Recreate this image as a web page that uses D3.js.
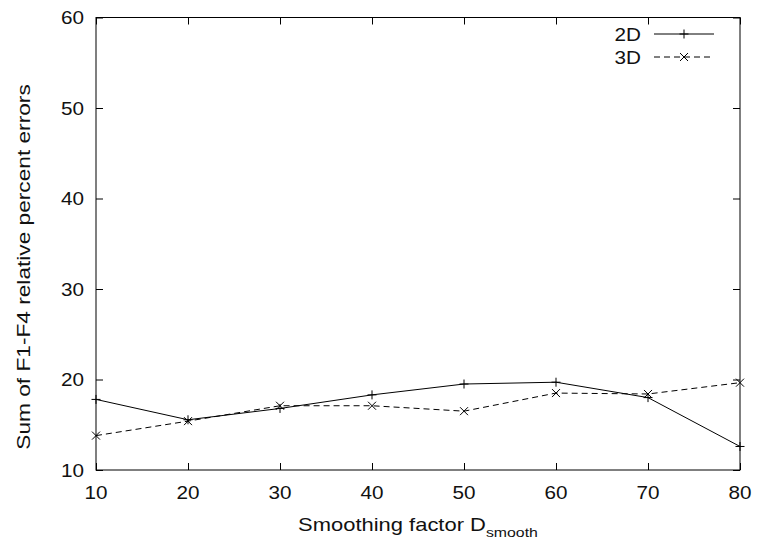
<!DOCTYPE html>
<html><head><meta charset="utf-8">
<script src="https://cdn.jsdelivr.net/npm/d3@7"></script>
<style>body{margin:0;background:#fff}svg{display:block}text{font-family:"Liberation Sans",Arial,sans-serif;fill:#111}</style>
</head><body>
<script>
const xValues = [10, 20, 30, 40, 50, 60, 70, 80];
const series2D = [17.8, 15.55, 16.8, 18.3, 19.5, 19.7, 18.0, 12.6];
const series3D = [13.8, 15.4, 17.1, 17.1, 16.5, 18.5, 18.4, 19.65];
const xTicks = [10, 20, 30, 40, 50, 60, 70, 80];
const yTicks = [10, 20, 30, 40, 50, 60];
const seriesNames = ["2D", "3D"];

const W = 757, H = 542;
const L = 96, R = 740, T = 17.5, B = 470;
const SX = 1.15, FS = 18;
const svg = d3.select("body").append("svg").attr("width", W).attr("height", H);
const x = d3.scaleLinear().domain([10, 80]).range([L, R]);
const y = d3.scaleLinear().domain([10, 60]).range([B, T]);

function txt(px, py, s, anchor, rot, sx) {
  const g = svg.append("g").attr("transform", `translate(${px},${py})${rot ? " rotate(-90)" : ""} scale(${sx || SX},1)`);
  return g.append("text").attr("text-anchor", anchor).attr("font-size", FS).text(s);
}

const tl = 7;
const gx = svg.append("g").attr("transform", `translate(0,${B})`)
  .call(d3.axisBottom(x).tickValues(xTicks).tickSize(-tl).tickFormat(""));
const gxt = svg.append("g").attr("transform", `translate(0,${T})`)
  .call(d3.axisTop(x).tickValues(xTicks).tickSize(-tl).tickFormat(""));
const gy = svg.append("g").attr("transform", `translate(${L},0)`)
  .call(d3.axisLeft(y).tickValues(yTicks).tickSize(-tl).tickFormat(""));
const gyr = svg.append("g").attr("transform", `translate(${R},0)`)
  .call(d3.axisRight(y).tickValues(yTicks).tickSize(-tl).tickFormat(""));
[gx, gxt, gy, gyr].forEach(g => { g.select(".domain").remove(); g.selectAll("line").attr("stroke", "#000"); });

svg.append("rect").attr("x", L).attr("y", T).attr("width", R - L).attr("height", B - T)
  .attr("fill", "none").attr("stroke", "#000").attr("stroke-width", 1);

xTicks.forEach(v => txt(x(v), 499, String(v), "middle"));
yTicks.forEach(v => txt(84, y(v) + 6.5, String(v), "end"));

{
  const g = svg.append("g").attr("transform", `translate(418,531) scale(1.22,1)`);
  const t = g.append("text").attr("text-anchor", "middle").attr("font-size", FS);
  t.append("tspan").text("Smoothing factor D");
  t.append("tspan").attr("font-size", 13).attr("dy", 6).text("smooth");
}
txt(30, 267, "Sum of F1-F4 relative percent errors", "middle", true, 1.26);

const line = d3.line().x((d, i) => x(xValues[i])).y(d => y(d));
const m = 4.5;
function plus(g, cx, cy) {
  g.append("path").attr("d", `M${cx - m},${cy}H${cx + m}M${cx},${cy - m}V${cy + m}`).attr("stroke", "#000").attr("fill", "none");
}
function cross(g, cx, cy) {
  const k = 4;
  g.append("path").attr("d", `M${cx - k},${cy - k}L${cx + k},${cy + k}M${cx - k},${cy + k}L${cx + k},${cy - k}`).attr("stroke", "#000").attr("fill", "none");
}

const g2 = svg.append("g");
g2.append("path").datum(series2D).attr("d", line).attr("fill", "none").attr("stroke", "#000").attr("stroke-width", 1);
series2D.forEach((d, i) => plus(g2, x(xValues[i]), y(d)));

const g3 = svg.append("g");
g3.append("path").datum(series3D).attr("d", line).attr("fill", "none").attr("stroke", "#000").attr("stroke-width", 1).attr("stroke-dasharray", "6,4");
series3D.forEach((d, i) => cross(g3, x(xValues[i]), y(d)));

const ly = [34, 57];
txt(641, ly[0] + 6.5, seriesNames[0], "end");
txt(641, ly[1] + 6.5, seriesNames[1], "end");
svg.append("line").attr("x1", 654).attr("x2", 714).attr("y1", ly[0]).attr("y2", ly[0]).attr("stroke", "#000");
plus(svg, 684, ly[0]);
svg.append("line").attr("x1", 654).attr("x2", 714).attr("y1", ly[1]).attr("y2", ly[1]).attr("stroke", "#000").attr("stroke-dasharray", "6,4");
cross(svg, 684, ly[1]);
</script>
</body></html>
